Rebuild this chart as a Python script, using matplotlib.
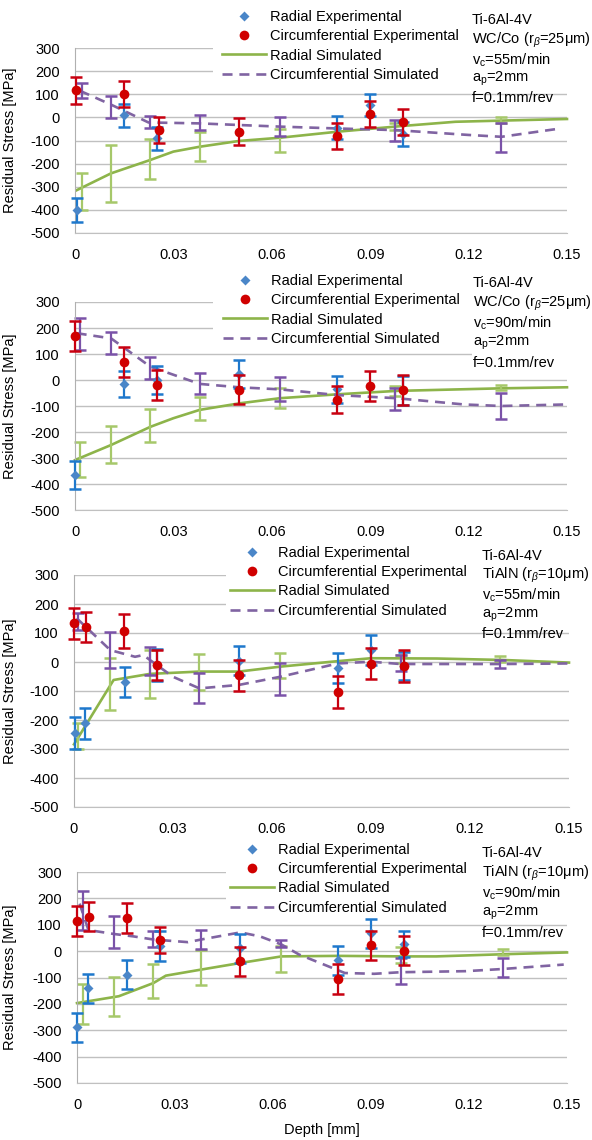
import matplotlib
matplotlib.use('Agg')
import matplotlib.pyplot as plt
from matplotlib.lines import Line2D
from matplotlib.patches import Rectangle

plt.rcParams['font.family'] = ['Liberation Sans', 'DejaVu Sans']
plt.rcParams['axes.unicode_minus'] = False
plt.rcParams['mathtext.fontset'] = 'custom'
plt.rcParams['mathtext.rm'] = 'Liberation Sans'
plt.rcParams['mathtext.it'] = 'Liberation Sans:italic'

# ---- data ----
x_ticks = [0, 0.03, 0.06, 0.09, 0.12, 0.15]
x_tick_labels = ['0', '0.03', '0.06', '0.09', '0.12', '0.15']
y_ticks = [300, 200, 100, 0, -100, -200, -300, -400, -500]
legend_labels = ['Radial Experimental', 'Circumferential Experimental',
                 'Radial Simulated', 'Circumferential Simulated']

# panel 1: WC/Co, vc=55
rad_exp_x1 = [0.0005, 0.015, 0.025, 0.08, 0.09, 0.1]
rad_exp_y1 = [-400, 10, -90, -45, 55, -70]
rad_exp_e1 = [53, 50, 50, 50, 48, 52]
cir_exp_x1 = [0.0003, 0.015, 0.0257, 0.05, 0.08, 0.09, 0.1]
cir_exp_y1 = [118, 102, -55, -62, -80, 15, -20]
cir_exp_e1 = [58, 56, 55, 58, 55, 56, 57]
rad_sim_x1 = [0.0005, 0.011, 0.023, 0.03, 0.038, 0.05, 0.0625, 0.08, 0.1, 0.116, 0.13, 0.15]
rad_sim_y1 = [-315, -242, -184, -148, -127, -102, -88, -62, -37, -19, -14, -7]
cir_sim_x1 = [0.0015, 0.011, 0.0224, 0.038, 0.05, 0.0625, 0.08, 0.0977, 0.12, 0.13, 0.148]
cir_sim_y1 = [115, 55, -22, -26, -33, -40, -48, -55, -76, -84, -48]
bar_x1 = [0.002, 0.011, 0.023, 0.038, 0.0625, 0.0977, 0.13]
rad_bar_y1 = [-321, -242, -181, -125, -100, -40, -13]
rad_bar_e1 = [79, 122, 86, 63, 48, 15, 13]
cir_bar_y1 = [115, 44, -22, -22, -40, -58, -87]
cir_bar_e1 = [33, 48, 26, 33, 40, 46, 61]
notes1 = ['Ti-6Al-4V', 'WC/Co (r$_\\beta$=25μm)', 'v$_\\mathrm{c}$=55m/min',
          'a$_\\mathrm{p}$=2mm', 'f=0.1mm/rev']

# panel 2: WC/Co, vc=90
rad_exp_x2 = [0.0, 0.015, 0.025, 0.05, 0.08, 0.1]
rad_exp_y2 = [-365, -15, 0, 23, -35, -40]
rad_exp_e2 = [53, 51, 52, 54, 52, 55]
cir_exp_x2 = [0.0, 0.015, 0.025, 0.05, 0.08, 0.09, 0.1]
cir_exp_y2 = [170, 70, -20, -37, -75, -22, -38]
cir_exp_e2 = [58, 57, 57, 57, 52, 57, 57]
rad_sim_x2 = [0.0, 0.011, 0.023, 0.03, 0.038, 0.05, 0.0625, 0.08, 0.098, 0.13, 0.15]
rad_sim_y2 = [-308, -250, -180, -147, -115, -90, -70, -55, -42, -32, -28]
cir_sim_x2 = [0.0005, 0.011, 0.023, 0.038, 0.05, 0.0625, 0.08, 0.098, 0.1185, 0.13, 0.15]
cir_sim_y2 = [180, 160, 51, -15, -28, -36, -58, -70, -94, -100, -94]
bar_x2 = [0.0015, 0.011, 0.023, 0.038, 0.0625, 0.0977, 0.13]
rad_bar_y2 = [-305, -249, -175, -110, -69, -42, -28]
rad_bar_e2 = [68, 72, 62, 43, 37, 19, 10]
cir_bar_y2 = [177, 143, 45, -12, -36, -73, -101]
cir_bar_e2 = [63, 43, 42, 40, 46, 42, 50]
notes2 = ['Ti-6Al-4V', 'WC/Co (r$_\\beta$=25μm)', 'v$_\\mathrm{c}$=90m/min',
          'a$_\\mathrm{p}$=2mm', 'f=0.1mm/rev']

# panel 3: TiAlN, vc=55
rad_exp_x3 = [0.0003, 0.0033, 0.0155, 0.025, 0.05, 0.08, 0.09, 0.1]
rad_exp_y3 = [-244, -212, -68, -10, 5, -20, 42, -15]
rad_exp_e3 = [56, 52, 52, 55, 50, 52, 52, 48]
cir_exp_x3 = [0.0, 0.0036, 0.0152, 0.025, 0.05, 0.08, 0.09, 0.1]
cir_exp_y3 = [133, 122, 107, -10, -46, -102, -6, -14]
cir_exp_e3 = [54, 52, 57, 53, 54, 55, 53, 55]
rad_sim_x3 = [0.0, 0.012, 0.023, 0.038, 0.05, 0.0625, 0.08, 0.09, 0.11, 0.13, 0.15]
rad_sim_y3 = [-284, -62, -41, -33, -33, -16, 3, 13, 12, 7, -2]
cir_sim_x3 = [0.0008, 0.011, 0.0185, 0.021, 0.023, 0.03, 0.038, 0.05, 0.0625, 0.08, 0.09, 0.099, 0.13, 0.15]
cir_sim_y3 = [151, 41, 18, 24, 7, -51, -91, -79, -51, -5, 1, -7, -7, -5]
bar_x3 = [0.0013, 0.011, 0.023, 0.038, 0.0625, 0.099, 0.129]
rad_bar_y3 = [-256, -77, -42, -35, -12, 10, 10]
rad_bar_e3 = [45, 90, 83, 62, 44, 15, 9]
cir_bar_y3 = [140, 41, 3, -91, -58, -4, -6]
cir_bar_e3 = [30, 63, 48, 52, 56, 28, 13]
notes3 = ['Ti-6Al-4V', 'TiAlN (r$_\\beta$=10μm)', 'v$_\\mathrm{c}$=55m/min',
          'a$_\\mathrm{p}$=2mm', 'f=0.1mm/rev']

# panel 4: TiAlN, vc=90
rad_exp_x4 = [0.0, 0.0033, 0.0152, 0.0254, 0.05, 0.08, 0.09, 0.1]
rad_exp_y4 = [-289, -140, -90, 18, 10, -35, 68, 26]
rad_exp_e4 = [54, 55, 55, 57, 55, 55, 55, 50]
cir_exp_x4 = [0.0, 0.0036, 0.0152, 0.0254, 0.05, 0.08, 0.09, 0.1]
cir_exp_y4 = [113, 130, 126, 41, -39, -105, 22, 2]
cir_exp_e4 = [57, 55, 57, 50, 56, 57, 56, 55]
rad_sim_x4 = [0.0, 0.0128, 0.0234, 0.0272, 0.038, 0.05, 0.0626, 0.08, 0.1, 0.11, 0.13, 0.15]
rad_sim_y4 = [-197, -171, -121, -93, -70, -45, -20, -18, -20, -20, -12, -5]
cir_sim_x4 = [0.0008, 0.0035, 0.0113, 0.0172, 0.0234, 0.034, 0.038, 0.05, 0.056, 0.0626,
              0.068, 0.082, 0.091, 0.099, 0.119, 0.13, 0.149]
cir_sim_y4 = [180, 80, 65, 56, 44, 34, 44, 71, 56, 25, -13, -83, -86, -80, -76, -68, -51]
bar_x4 = [0.0018, 0.0113, 0.0234, 0.038, 0.0626, 0.0993, 0.1303]
rad_bar_y4 = [-199, -172, -113, -62, -31, -14, -3]
rad_bar_e4 = [76, 75, 65, 68, 49, 30, 10]
cir_bar_y4 = [154, 73, 45, 43, 28, -75, -62]
cir_bar_e4 = [73, 62, 30, 36, 13, 48, 36]
notes4 = ['Ti-6Al-4V', 'TiAlN (r$_\\beta$=10μm)', 'v$_\\mathrm{c}$=90m/min',
          'a$_\\mathrm{p}$=2mm', 'f=0.1mm/rev']

# ---- styling ----
W, H = 592, 1140
FS = 10.5
BLUE_M, BLUE_E = '#4A86C8', '#1E78CC'
RED_M, RED_E = '#D00000', '#C80010'
GREEN, GREEN_E = '#8DB44A', '#A6C86A'
PURPLE, PURPLE_E = '#8064A2', '#7A52A8'
GRID = '#C0C0C0'

fig = plt.figure(figsize=(W / 100, H / 100), dpi=100)


def fx(px):
    return px / W


def fy(py):
    return 1 - py / H


def white_box(l, t, r, b):
    fig.add_artist(Rectangle((fx(l), fy(b)), fx(r) - fx(l), fy(t) - fy(b),
                             transform=fig.transFigure, facecolor='white',
                             edgecolor='none', zorder=1))


def panel(box, rad_exp, cir_exp, rad_sim, cir_sim, bars, notes, leg_xy, note_x, note_y):
    l, t, r, b = box
    ax = fig.add_axes([fx(l), fy(b), fx(r) - fx(l), fy(t) - fy(b)])
    bx, ry, re, cy, ce = bars
    # simulated
    ax.plot(rad_sim[0], rad_sim[1], color=GREEN, lw=1.9, zorder=2, clip_on=False)
    ax.errorbar(bx, ry, yerr=re, fmt='none', ecolor=GREEN_E, elinewidth=1.6,
                capsize=4.3, capthick=1.8, zorder=2, clip_on=False)
    ax.plot(cir_sim[0], cir_sim[1], color=PURPLE, lw=1.9, dashes=(3.8, 2.6),
            zorder=2, clip_on=False)
    ax.errorbar(bx, cy, yerr=ce, fmt='none', ecolor=PURPLE_E, elinewidth=1.6,
                capsize=4.3, capthick=1.8, zorder=2, clip_on=False)
    # experimental
    ax.errorbar(rad_exp[0], rad_exp[1], yerr=rad_exp[2], fmt='none', ecolor=BLUE_E,
                elinewidth=1.6, capsize=4.3, capthick=1.8, zorder=3, clip_on=False)
    ax.plot(rad_exp[0], rad_exp[1], 'D', color=BLUE_M, ms=5.5, mec='none',
            zorder=3, clip_on=False)
    ax.errorbar(cir_exp[0], cir_exp[1], yerr=cir_exp[2], fmt='none', ecolor=RED_E,
                elinewidth=1.6, capsize=4.3, capthick=1.8, zorder=4, clip_on=False)
    ax.plot(cir_exp[0], cir_exp[1], 'o', color=RED_M, ms=7, mec='none',
            zorder=4, clip_on=False)

    ax.set_xlim(0, 0.15)
    ax.set_ylim(-500, 300)
    ax.set_xticks(x_ticks)
    ax.set_xticklabels(x_tick_labels)
    ax.set_yticks(y_ticks)
    ax.tick_params(length=0, pad=11, labelsize=FS, colors='black')
    ax.yaxis.grid(True, color=GRID, lw=1)
    ax.set_axisbelow(True)
    for s in ['top', 'right']:
        ax.spines[s].set_visible(False)
    ax.spines['bottom'].set_color(GRID)
    ax.spines['left'].set_color('#B0B0B0')
    ax.set_ylabel('Residual Stress [MPa]', fontsize=FS)
    ax.yaxis.set_label_coords((17 - l) / (r - l), 0.5)

    handles = [Line2D([], [], ls='none', marker='D', color=BLUE_M, ms=5.5, mec='none'),
               Line2D([], [], ls='none', marker='o', color=RED_M, ms=7, mec='none'),
               Line2D([], [], color=GREEN, lw=1.9),
               Line2D([], [], color=PURPLE, lw=1.9, dashes=(3.8, 2.6))]
    fig.legend(handles, legend_labels, loc='upper left',
               bbox_to_anchor=(fx(leg_xy[0]), fy(leg_xy[1])), frameon=False,
               fontsize=FS, handlelength=3.0, handletextpad=0.3,
               labelspacing=0.36, borderpad=0, borderaxespad=0)
    for i, txt in enumerate(notes):
        fig.text(fx(note_x), fy(note_y[i]), txt, fontsize=FS, ha='left', va='center',
                 zorder=6)
    return ax


panel((75, 48, 567, 233),
      (rad_exp_x1, rad_exp_y1, rad_exp_e1), (cir_exp_x1, cir_exp_y1, cir_exp_e1),
      (rad_sim_x1, rad_sim_y1), (cir_sim_x1, cir_sim_y1),
      (bar_x1, rad_bar_y1, rad_bar_e1, cir_bar_y1, cir_bar_e1),
      notes1, (222, 10), 472, [20, 40, 60, 79, 98])
white_box(213, 0, 575, 85)

panel((75, 302, 567, 510),
      (rad_exp_x2, rad_exp_y2, rad_exp_e2), (cir_exp_x2, cir_exp_y2, cir_exp_e2),
      (rad_sim_x2, rad_sim_y2), (cir_sim_x2, cir_sim_y2),
      (bar_x2, rad_bar_y2, rad_bar_e2, cir_bar_y2, cir_bar_e2),
      notes2, (223, 274), 473, [283, 303, 323, 343, 363])
white_box(213, 262, 575, 347)
white_box(472, 347, 575, 370)

panel((74, 575, 569, 807),
      (rad_exp_x3, rad_exp_y3, rad_exp_e3), (cir_exp_x3, cir_exp_y3, cir_exp_e3),
      (rad_sim_x3, rad_sim_y3), (cir_sim_x3, cir_sim_y3),
      (bar_x3, rad_bar_y3, rad_bar_e3, cir_bar_y3, cir_bar_e3),
      notes3, (230, 546), 482, [556, 575, 595, 615, 634])
white_box(226, 540, 575, 622)

ax4 = panel((77, 872, 567, 1083),
            (rad_exp_x4, rad_exp_y4, rad_exp_e4), (cir_exp_x4, cir_exp_y4, cir_exp_e4),
            (rad_sim_x4, rad_sim_y4), (cir_sim_x4, cir_sim_y4),
            (bar_x4, rad_bar_y4, rad_bar_e4, cir_bar_y4, cir_bar_e4),
            notes4, (230, 843), 482, [853, 873, 893, 913, 933])
white_box(226, 838, 575, 917)

fig.text(fx(322), fy(1130), 'Depth [mm]', fontsize=FS, ha='center', va='center')

fig.savefig('out.png', dpi=100)
